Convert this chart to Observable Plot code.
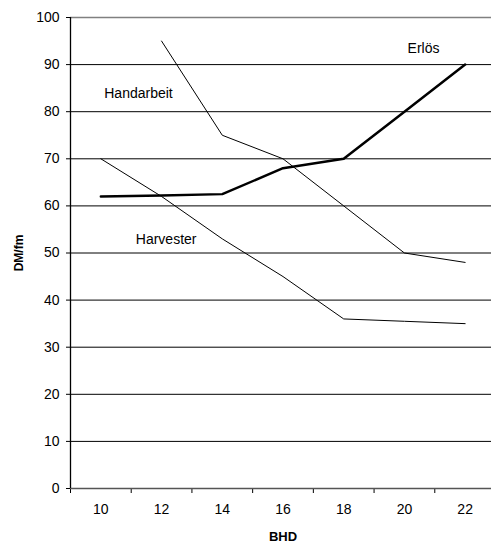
<!DOCTYPE html>
<html>
<head>
<meta charset="utf-8">
<script src="https://cdn.jsdelivr.net/npm/d3@7"></script>
<script src="https://cdn.jsdelivr.net/npm/@observablehq/plot@0.6"></script>
<style>
  html, body { margin: 0; padding: 0; background: #fff; }
  svg { display: block; }
</style>
</head>
<body>
<div id="chart"></div>
<script>
const bhd = [10, 12, 14, 16, 18, 20, 22];
const erloes = [62, 62.2, 62.5, 68, 70, 80, 90];
const handarbeit = [null, 95, 75, 70, 60, 50, 48];
const harvester = [70, 62, 53, 45, 36, 35.5, 35];
const yTicks = [0, 10, 20, 30, 40, 50, 60, 70, 80, 90, 100];
const xBoundaries = [9, 11, 13, 15, 17, 19, 21, 23];
const seriesLabels = [
  {name: "Handarbeit", x: 11.24, y: 83.8},
  {name: "Harvester", x: 12.15, y: 52.9},
  {name: "Erlös", x: 20.63, y: 93.5}
];

const rows = (vals) => bhd.map((b, i) => ({x: b, y: vals[i]})).filter(d => d.y != null);

const font = "Liberation Sans, Arial, sans-serif";

const chart = Plot.plot({
  width: 491,
  height: 543,
  marginTop: 17,
  marginBottom: 55,
  marginLeft: 70,
  marginRight: 0,
  style: {fontFamily: font, fontSize: "14px", color: "#000", background: "#fff"},
  x: {type: "linear", domain: [9, 23], range: [70, 495], axis: null},
  y: {domain: [0, 100], axis: null},
  marks: [
    Plot.ruleY(yTicks.filter(v => v > 0 && v < 100), {y: d => d, stroke: "#000", strokeWidth: 1}),
    Plot.ruleY([100], {stroke: "#808080", strokeWidth: 1.3}),
    Plot.axisX({ticks: xBoundaries, tickFormat: () => "", tickSize: 5, anchor: "bottom", label: null, stroke: "#000", strokeOpacity: 1}),
    Plot.axisY({ticks: yTicks, tickSize: 4, tickPadding: 7, anchor: "left", label: null, fontSize: 14, stroke: "#000", strokeOpacity: 1, fill: "#000"}),
    Plot.ruleY([0], {stroke: "#555", strokeWidth: 1.5}),
    Plot.ruleX([9], {y1: 0, y2: 100, stroke: "#000", strokeWidth: 1.3}),
    Plot.text(bhd, {x: d => d, y: 0, text: d => String(d), dy: 21, fontSize: 14, fill: "#000"}),
    Plot.line(rows(harvester), {x: "x", y: "y", stroke: "#000", strokeWidth: 1}),
    Plot.line(rows(handarbeit), {x: "x", y: "y", stroke: "#000", strokeWidth: 1}),
    Plot.line(rows(erloes), {x: "x", y: "y", stroke: "#000", strokeWidth: 2.5}),
    Plot.text(seriesLabels, {x: "x", y: "y", text: "name", fontSize: 14, fill: "#000"}),
    Plot.text(["BHD"], {x: 16, y: 0, text: d => d, dy: 48, fontSize: 13, fontWeight: "bold", fill: "#000"}),
    Plot.text(["DM/fm"], {x: 9, y: 50, text: d => d, dx: -51, rotate: -90, fontSize: 12, fontWeight: "bold", fill: "#000"})
  ]
});
document.getElementById("chart").appendChild(chart);
</script>
</body>
</html>
